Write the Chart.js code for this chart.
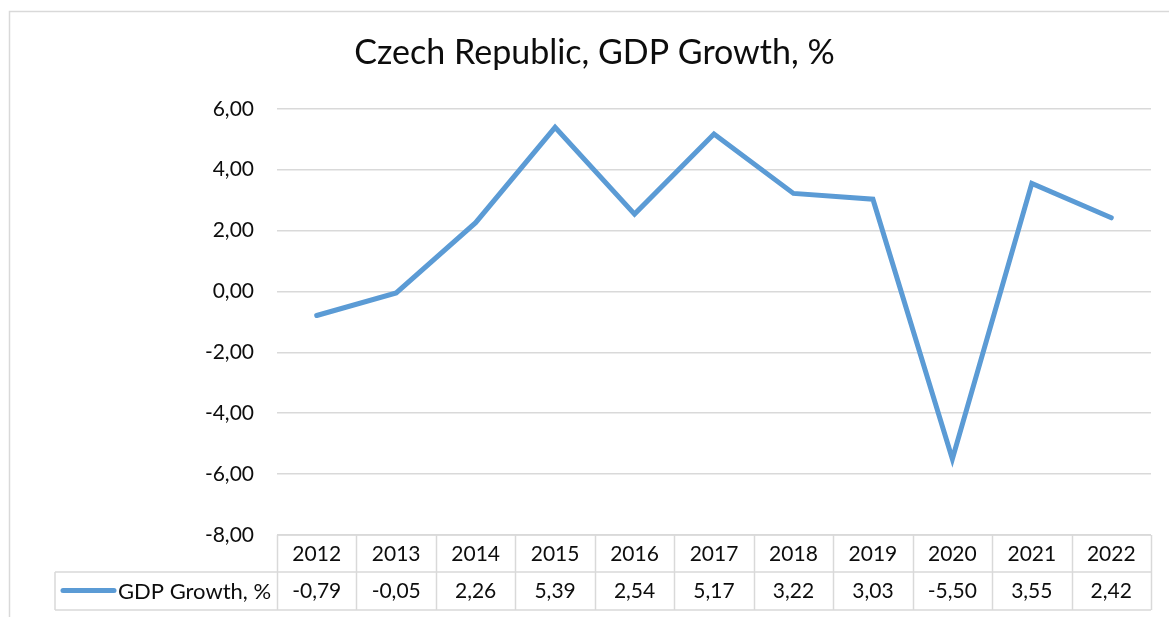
<!DOCTYPE html>
<html>
<head>
<meta charset="utf-8">
<script src="https://cdn.jsdelivr.net/npm/chart.js@4"></script>
<style>
  html, body { margin: 0; padding: 0; background: #fff; }
  #wrap { width: 1169px; height: 617px; position: relative; }
</style>
</head>
<body>
<div id="wrap"><canvas id="gdp-chart"></canvas></div>
<script>
var years = ["2012", "2013", "2014", "2015", "2016", "2017", "2018", "2019", "2020", "2021", "2022"];
var gdpGrowth = [-0.79, -0.05, 2.26, 5.39, 2.54, 5.17, 3.22, 3.03, -5.50, 3.55, 2.42];
var seriesName = "GDP Growth, %";
var chartTitle = "Czech Republic, GDP Growth, %";

var lineColor = "#5B9BD5";
var gridColor = "#d9d9d9";
var textColor = "#0d0d0d";
var font = "Lato, 'Open Sans', sans-serif";

function fmt(v) {
    return v.toFixed(2).replace('.', ',');
}

// frame + data table under the plot (Excel style)
var dataTable = {
    id: 'dataTable',
    afterDraw: function (chart) {
        var ctx = chart.ctx;
        var x = chart.scales.x;
        var area = chart.chartArea;
        var rowH = 37;
        var top = area.bottom;
        var mid = top + rowH;
        var bottom = mid + rowH + 1;
        var legendLeft = 55;
        var colW = (area.right - area.left) / years.length;

        ctx.save();
        ctx.strokeStyle = gridColor;
        ctx.lineWidth = 1.5;

        // outer frame of the chart
        ctx.beginPath();
        ctx.moveTo(9.5, chart.height + 5);
        ctx.lineTo(9.5, 11.5);
        ctx.lineTo(chart.width + 5, 11.5);
        ctx.stroke();

        // table lines
        ctx.beginPath();
        ctx.moveTo(area.left, top);
        ctx.lineTo(area.right, top);
        ctx.moveTo(legendLeft, mid);
        ctx.lineTo(area.right, mid);
        ctx.moveTo(legendLeft, bottom);
        ctx.lineTo(area.right, bottom);
        ctx.moveTo(legendLeft, mid);
        ctx.lineTo(legendLeft, bottom);
        for (var i = 0; i <= years.length; i++) {
            var cx = Math.round(area.left + i * colW) + 0.5;
            ctx.moveTo(cx, top);
            ctx.lineTo(cx, bottom);
        }
        ctx.stroke();

        ctx.fillStyle = textColor;
        ctx.font = "21px " + font;
        ctx.textAlign = 'center';
        ctx.textBaseline = 'middle';
        for (var j = 0; j < years.length; j++) {
            var px = x.getPixelForValue(j);
            ctx.fillText(years[j], px, top + rowH / 2 + 1);
            ctx.fillText(fmt(gdpGrowth[j]), px, mid + rowH / 2 + 1);
        }

        // legend key
        ctx.strokeStyle = lineColor;
        ctx.lineWidth = 5;
        ctx.lineCap = 'round';
        ctx.beginPath();
        ctx.moveTo(63, mid + rowH / 2);
        ctx.lineTo(114, mid + rowH / 2);
        ctx.stroke();
        ctx.textAlign = 'left';
        ctx.font = "22px " + font;
        ctx.fillText(seriesName, 118, mid + rowH / 2 + 1);
        ctx.restore();
    }
};

new Chart(document.getElementById("gdp-chart"), {
    type: 'line',
    data: {
        labels: years,
        datasets: [
            {
                label: seriesName,
                data: gdpGrowth,
                borderColor: lineColor,
                backgroundColor: lineColor,
                borderWidth: 5,
                borderCapStyle: 'round',
                borderJoinStyle: 'miter',
                pointRadius: 0,
                tension: 0
            }
        ]
    },
    plugins: [dataTable],
    options: {
        responsive: true,
        maintainAspectRatio: false,
        animation: false,
        layout: {
            padding: { left: 38, right: 18, top: 0, bottom: 82 }
        },
        plugins: {
            legend: { display: false },
            tooltip: { enabled: false },
            title: {
                display: true,
                text: chartTitle,
                color: textColor,
                font: { family: font, size: 34, weight: 'normal', lineHeight: 1.2 },
                padding: { top: 33, bottom: 35 }
            }
        },
        scales: {
            x: {
                display: false,
                offset: true
            },
            y: {
                min: -8,
                max: 6,
                afterFit: function (scale) { scale.width = 239; },
                border: { display: false },
                grid: { color: gridColor, lineWidth: 1.5, drawTicks: false },
                ticks: {
                    stepSize: 2,
                    padding: 23,
                    color: textColor,
                    font: { family: font, size: 21 },
                    callback: function (v) { return fmt(v); }
                }
            }
        }
    }
});
</script>
</body>
</html>
